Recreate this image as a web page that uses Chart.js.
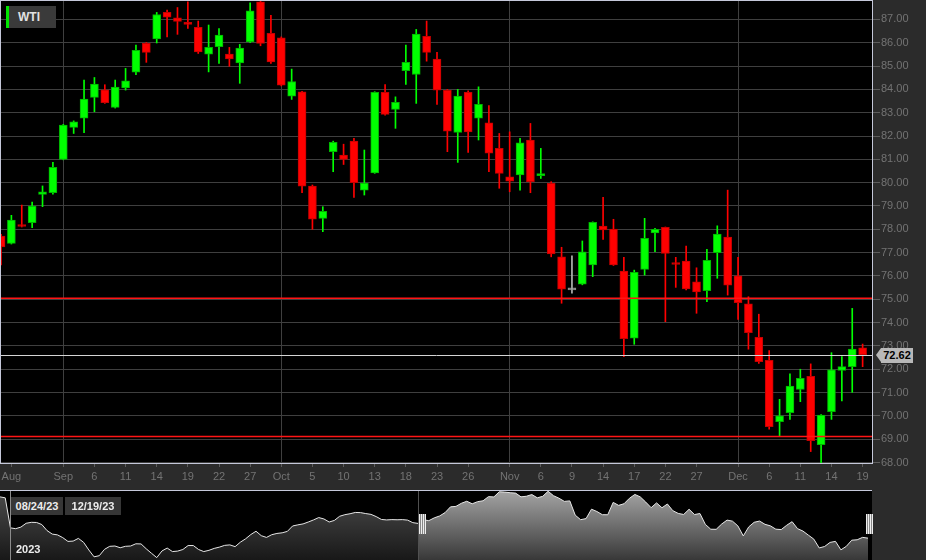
<!DOCTYPE html>
<html lang="en">
<head>
  <meta charset="UTF-8">
  <title>WTI</title>
  <script src="https://cdn.jsdelivr.net/npm/chart.js"></script>
  <style>
    body { margin: 0; background: #2b2b2b; font-family: "Liberation Sans", Arial, sans-serif; }
    #wrap { position: relative; width: 926px; height: 560px; overflow: hidden; }
    #main { position: absolute; left: 0; top: 0; width: 926px; height: 488px; }
    #legend { position: absolute; left: 6px; top: 6px; width: 50px; height: 22px; box-sizing: border-box;
      background: #3a3a3a; border-left: 3px solid #00e600; color: #e2e2e2; font-weight: bold;
      font-size: 12px; line-height: 22px; padding-left: 9px; }
    #tag { position: absolute; left: 881px; top: 347px; width: 32px; height: 15px; background: #b8b8b8;
      color: #000; font-weight: bold; font-size: 11px; line-height: 15px; text-align: center; }
    #tag::before { content: ""; position: absolute; left: -5px; top: 0; border-top: 7.5px solid transparent;
      border-bottom: 7.5px solid transparent; border-right: 5px solid #b8b8b8; }
    #nav { position: absolute; left: 0; top: 490px; width: 872px; height: 70px; box-sizing: border-box;
      background: #000; border-top: 1px solid #c5c8da; }
    #nav canvas { position: absolute; top: 0; height: 69px; }
    #navLeft { left: 0; width: 418px; }
    #navRight { left: 418px; width: 450px; }
    .vline { position: absolute; top: 0; width: 1px; height: 69px; }
    .handle { position: absolute; top: 23px; width: 7px; height: 20px;
      background: linear-gradient(to right, #eee 0 1px, #888 1px 2px, #eee 2px 3px, #888 3px 4px, #eee 4px 5px, #888 5px 6px, #eee 6px 7px); }
    .datebox { position: absolute; top: 6px; height: 18px; background: #363636; color: #ececec;
      font-weight: bold; font-size: 11px; line-height: 18px; text-align: center; }
    #year { position: absolute; left: 16px; top: 51px; color: #ececec; font-weight: bold; font-size: 11px; line-height: 14px; }
  </style>
</head>

<body>
<div id="wrap">
  <canvas id="main" width="926" height="488"></canvas>
  <div id="legend">WTI</div>
  <div id="tag"></div>
  <div id="nav">
    <canvas id="navLeft" width="418" height="69"></canvas>
    <canvas id="navRight" width="450" height="69"></canvas>
    <div class="vline" style="left:10px;background:#8c8c8c"></div>
    <div class="vline" style="left:418px;background:#505050"></div>
    <div class="handle" style="left:419px"></div>
    <div class="handle" style="left:866px"></div>
    <div class="datebox" id="fromDate" style="left:11px;width:52px"></div>
    <div class="datebox" id="toDate" style="left:65px;width:56px"></div>
    <div id="year">2023</div>
  </div>
</div>

<script>
  // daily WTI candles, 08/24/23 - 12/19/23
  const dates = [
    '08/24/23', '08/25/23', '08/28/23', '08/29/23', '08/30/23', '08/31/23',
    '09/01/23', '09/04/23', '09/05/23', '09/06/23', '09/07/23', '09/08/23', '09/11/23', '09/12/23', '09/13/23',
    '09/14/23', '09/15/23', '09/18/23', '09/19/23', '09/20/23', '09/21/23', '09/22/23', '09/25/23', '09/26/23',
    '09/27/23', '09/28/23', '09/29/23',
    '10/02/23', '10/03/23', '10/04/23', '10/05/23', '10/06/23', '10/09/23', '10/10/23', '10/11/23', '10/12/23',
    '10/13/23', '10/16/23', '10/17/23', '10/18/23', '10/19/23', '10/20/23', '10/23/23', '10/24/23', '10/25/23',
    '10/26/23', '10/27/23', '10/30/23', '10/31/23',
    '11/01/23', '11/02/23', '11/03/23', '11/06/23', '11/07/23', '11/08/23', '11/09/23', '11/10/23', '11/13/23',
    '11/14/23', '11/15/23', '11/16/23', '11/17/23', '11/20/23', '11/21/23', '11/22/23', '11/23/23', '11/24/23',
    '11/27/23', '11/28/23', '11/29/23', '11/30/23',
    '12/01/23', '12/04/23', '12/05/23', '12/06/23', '12/07/23', '12/08/23', '12/11/23', '12/12/23', '12/13/23',
    '12/14/23', '12/15/23', '12/18/23', '12/19/23'
  ];
  const open = [
    77.71, 77.40, 78.15, 78.28, 79.50, 79.57,
    81.00, 82.37, 82.77, 83.66, 83.98, 83.23, 84.06, 84.74, 85.97, 86.16, 87.30, 87.07, 86.83, 86.66, 85.51,
    85.83, 85.51, 85.14, 86.04, 87.75, 86.40,
    86.21, 83.71, 83.90, 79.85, 78.47, 81.33, 81.18, 81.78, 79.68, 80.42, 83.87, 83.14, 84.80, 84.64, 86.28,
    85.30, 83.96, 82.16, 83.87, 82.77, 82.57, 81.47,
    80.25, 80.33, 81.83, 80.30, 79.97, 76.82, 75.40, 75.65, 76.47, 78.14, 78.01, 76.21, 73.33, 76.28, 77.85,
    78.08, 76.51, 76.64, 75.75, 75.37, 77.00, 77.67,
    76.01, 74.80, 73.37, 72.38, 69.75, 70.14, 71.14, 71.70, 68.77, 70.18, 71.95, 72.11, 72.92
  ];
  const high = [
    77.78, 78.60, 79.04, 79.17, 79.86, 80.87,
    82.50, 82.65, 84.40, 84.51, 84.20, 84.40, 84.90, 85.90, 86.01, 87.30, 87.40, 87.51, 87.75, 86.93, 86.76,
    86.61, 85.80, 85.93, 87.71, 87.95, 87.18,
    86.25, 84.87, 83.92, 79.90, 78.97, 81.78, 81.65, 81.90, 81.40, 83.90, 84.21, 83.68, 85.90, 86.57, 86.93,
    85.59, 84.00, 84.00, 83.94, 84.11, 83.31, 82.11,
    82.18, 81.90, 82.54, 81.47, 80.04, 77.23, 76.86, 77.50, 78.32, 79.37, 78.43, 76.80, 76.25, 78.47, 78.04,
    78.10, 76.80, 77.28, 76.35, 77.14, 78.15, 79.68,
    76.80, 75.11, 74.36, 72.80, 70.71, 71.80, 72.00, 72.23, 70.06, 72.71, 72.54, 74.61, 73.08
  ];
  const low = [
    76.47, 77.37, 78.10, 78.07, 78.97, 79.51,
    80.98, 82.11, 82.14, 83.04, 83.40, 83.20, 83.97, 84.63, 85.16, 85.99, 86.25, 86.36, 86.61, 85.54, 84.75,
    85.11, 84.99, 84.26, 86.00, 85.87, 85.11,
    84.15, 83.57, 79.57, 78.00, 77.90, 80.47, 80.78, 79.37, 79.47, 80.40, 82.89, 82.33, 84.21, 83.40, 85.21,
    83.36, 81.33, 80.87, 81.30, 81.83, 80.47, 79.76,
    79.61, 79.68, 79.57, 80.18, 76.82, 74.83, 75.26, 75.62, 75.97, 77.57, 76.45, 72.54, 73.07, 76.04, 77.04,
    74.04, 75.51, 75.40, 74.40, 74.90, 75.90, 75.18,
    74.14, 72.86, 72.25, 69.43, 69.11, 69.85, 70.61, 68.47, 67.97, 69.85, 70.64, 71.01, 72.11
  ];
  const close = [
    77.25, 78.40, 78.12, 79.00, 79.61, 80.66,
    82.47, 82.61, 83.58, 84.23, 83.43, 84.10, 84.37, 85.68, 85.59, 87.21, 87.10, 86.91, 86.79, 85.61, 85.80,
    86.33, 85.31, 85.77, 87.37, 85.97, 85.18,
    84.18, 84.34, 79.85, 78.43, 78.77, 81.73, 81.00, 80.00, 79.98, 83.87, 82.93, 83.44, 85.16, 86.37, 85.59,
    83.97, 82.21, 83.71, 82.18, 83.36, 81.26, 80.40,
    80.06, 81.71, 80.04, 80.37, 76.94, 75.43, 75.40, 77.04, 78.30, 77.97, 76.47, 73.31, 76.16, 77.61, 78.00,
    76.97, 76.49, 75.44, 75.32, 76.67, 77.80, 75.61,
    74.85, 73.57, 72.32, 69.54, 70.00, 71.28, 71.61, 68.94, 70.04, 71.98, 72.11, 72.87, 72.62
  ];

  // x-axis labels and the month divider lines
  const tickDates = ['08/25/23', '09/01/23', '09/06/23', '09/11/23', '09/14/23', '09/19/23', '09/22/23', '09/27/23',
    '10/02/23', '10/05/23', '10/10/23', '10/13/23', '10/18/23', '10/23/23', '10/26/23',
    '11/01/23', '11/06/23', '11/09/23', '11/14/23', '11/17/23', '11/22/23', '11/27/23',
    '12/01/23', '12/06/23', '12/11/23', '12/14/23', '12/19/23'];
  const tickTexts = ['Aug', 'Sep', '6', '11', '14', '19', '22', '27',
    'Oct', '5', '10', '13', '18', '23', '26',
    'Nov', '6', '9', '14', '17', '22', '27',
    'Dec', '6', '11', '14', '19'];
  const monthLines = ['09/01/23', '10/02/23', '11/01/23', '12/01/23'];

  // horizontal level lines
  const levels = [75.04, 69.12];

  // navigator closes before the visible range
  const navHistory = [
    85.6, 85.3, 75.85, 75.6, 76.1, 77.3, 77.6, 77.55, 76.9, 75.0,
    73.9, 73.65, 72.8, 71.6, 71.7, 72.55, 71.3, 68.9, 66.75, 67.1,
    69.1, 70.05, 70.15, 69.6, 70.05, 70.15, 70.85, 70.8, 69.25, 67.85,
    66.5, 68.6, 69.5, 68.4, 68.55, 69.05, 70.3, 70.3, 69.05, 68.4,
    68.8, 69.4, 69.8, 70.35, 70.5, 69.95, 71.35, 72.4, 73.75, 74.8,
    73.4, 72.85, 73.7, 74.1, 74.3, 74.75, 76.45, 76.8, 77.1, 77.7,
    78.35, 79.1, 78.65, 77.7, 78.2, 79.5, 80.0, 80.3, 80.7, 80.65,
    80.35, 80.1, 79.4, 78.5, 78.35, 78.45, 78.4, 78.45, 78.3, 77.5, 77.25
  ];

  const fontFamily = '"Liberation Sans", Arial, sans-serif';
  Chart.defaults.font.family = fontFamily;

  const lastPrice = close[close.length - 1];
  const labels = dates.concat(['']);   // one empty slot keeps a gap after the last candle

  const colorOf = i => close[i] > open[i] ? '#00ff00' : close[i] < open[i] ? '#ff0000' : '#b4b4b4';
  const edgeOf = i => close[i] > open[i] ? '#00b400' : close[i] < open[i] ? '#c40000' : '#8a8a8a';

  const tag = document.getElementById('tag');
  tag.textContent = lastPrice.toFixed(2);
  document.getElementById('fromDate').textContent = dates[0];
  document.getElementById('toDate').textContent = dates[dates.length - 1];

  const overlay = {
    id: 'overlay',
    beforeDraw(chart) {
      const { ctx, chartArea: a } = chart;
      ctx.save();
      ctx.fillStyle = '#000';
      ctx.fillRect(0, 0, a.right, a.bottom);
      ctx.restore();
    },
    afterDatasetsDraw(chart) {
      const { ctx, chartArea: a, scales: { y } } = chart;
      ctx.save();
      ctx.lineWidth = 1.5;
      ctx.strokeStyle = '#ff1414';
      levels.forEach(v => {
        const py = y.getPixelForValue(v);
        ctx.beginPath();
        ctx.moveTo(0, py);
        ctx.lineTo(a.right, py);
        ctx.stroke();
      });
      const lp = Math.round(y.getPixelForValue(lastPrice)) + 0.5;
      ctx.lineWidth = 1;
      ctx.strokeStyle = '#d4d4d4';
      ctx.beginPath();
      ctx.moveTo(0, lp);
      ctx.lineTo(a.right, lp);
      ctx.stroke();
      ctx.strokeStyle = '#c5c8da';
      ctx.strokeRect(0.5, 0.5, a.right - 1, a.bottom);
      ctx.restore();
      tag.style.top = (lp - 7.5) + 'px';
    }
  };

  new Chart(document.getElementById('main'), {
    type: 'bar',
    data: {
      labels: labels,
      datasets: [
        {
          data: open.map((o, i) => [o, close[i]]),
          backgroundColor: dates.map((_, i) => colorOf(i)),
          borderColor: dates.map((_, i) => edgeOf(i)),
          borderWidth: 1,
          borderSkipped: false,
          barThickness: 8,
          minBarLength: 2,
          grouped: false
        },
        {
          data: low.map((l, i) => [l, high[i]]),
          backgroundColor: dates.map((_, i) => colorOf(i)),
          borderWidth: 0,
          barThickness: 1,
          grouped: false
        }
      ]
    },
    options: {
      responsive: false,
      animation: false,
      layout: { padding: { left: 1, top: 1, right: 0, bottom: 0 } },
      plugins: { legend: { display: false }, tooltip: { enabled: false } },
      scales: {
        x: {
          offset: false,
          border: { display: false },
          grid: {
            offset: false,
            tickLength: 4,
            color: ctx => monthLines.includes(labels[ctx.index]) ? '#3f3f3f' : 'transparent',
            tickColor: ctx => tickDates.includes(labels[ctx.index]) ? '#5c5c5c' : 'transparent'
          },
          ticks: {
            autoSkip: false,
            minRotation: 0,
            maxRotation: 0,
            padding: 3,
            color: '#737373',
            font: { size: 11 },
            callback: (v, i) => {
              const k = tickDates.indexOf(labels[i]);
              return k < 0 ? '' : tickTexts[k];
            }
          },
          afterFit: s => { s.height = 25; s.paddingLeft = 0; s.paddingRight = 0; }
        },
        y: {
          position: 'right',
          min: 67.98,
          max: 87.79,
          border: { display: false },
          grid: { color: '#3f3f3f', tickColor: '#5c5c5c', tickLength: 7 },
          ticks: {
            stepSize: 1,
            includeBounds: false,
            padding: 1,
            color: '#737373',
            font: { size: 11 },
            callback: v => v.toFixed(2)
          },
          afterFit: s => { s.width = 53; s.paddingTop = 0; s.paddingBottom = 0; }
        }
      }
    },
    plugins: [overlay]
  });

  // navigator: history (dim) and the visible range (bright)
  function navChart(id, values, top, bottom) {
    const canvas = document.getElementById(id);
    const g = canvas.getContext('2d').createLinearGradient(0, 0, 0, 69);
    g.addColorStop(0, top);
    g.addColorStop(1, bottom);
    return new Chart(canvas, {
      type: 'line',
      data: {
        labels: values.map((_, i) => i),
        datasets: [{
          data: values,
          borderColor: '#e6e6e6',
          borderWidth: 1,
          pointRadius: 0,
          tension: 0,
          fill: 'start',
          backgroundColor: g
        }]
      },
      options: {
        responsive: false,
        animation: false,
        layout: { padding: 0 },
        plugins: { legend: { display: false }, tooltip: { enabled: false } },
        scales: {
          x: { display: false, offset: false },
          y: { display: false, min: 65.75, max: 87.45 }
        }
      }
    });
  }
  navChart('navLeft', navHistory, '#4c4c4c', '#181818');
  navChart('navRight', close, '#a4a4a4', '#383838');
</script>
</body>
</html>
